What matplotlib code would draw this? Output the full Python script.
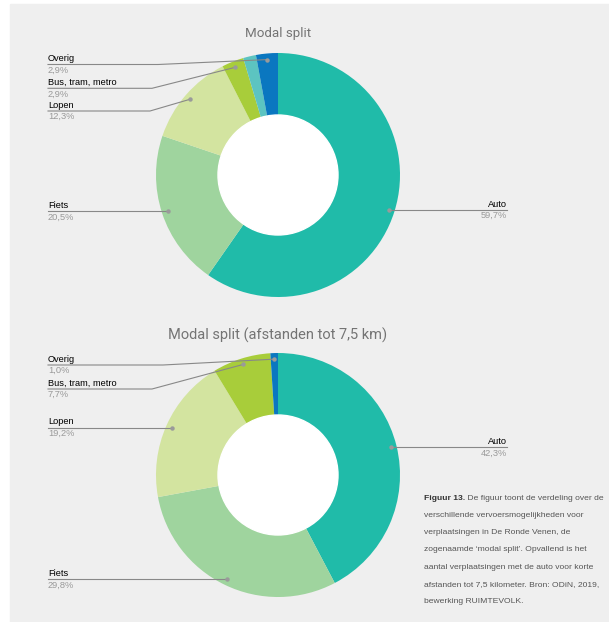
import matplotlib.pyplot as plt
from matplotlib.patches import Circle, Rectangle
import numpy as np

W, H = 609, 622

# data
top_labels = ['Auto', 'Fiets', 'Lopen', 'Bus, tram, metro', '', 'Overig']
top_values = [59.7, 20.5, 12.3, 2.9, 1.7, 2.9]
top_colors = ['#20bba9', '#9fd49e', '#d3e4a0', '#a8cd3a', '#5cc4c1', '#0a77c0']

bottom_labels = ['Auto', 'Fiets', 'Lopen', 'Bus, tram, metro', 'Overig']
bottom_values = [42.3, 29.8, 19.2, 7.7, 1.0]
bottom_colors = ['#20bba9', '#9fd49e', '#d3e4a0', '#a8cd3a', '#0a77c0']

titles = ['Modal split', 'Modal split (afstanden tot 7,5 km)']

caption_bold = 'Figuur 13.'
caption_lines = [
    ' De figuur toont de verdeling over de',
    'verschillende vervoersmogelijkheden voor',
    'verplaatsingen in De Ronde Venen, de',
    'zogenaamde \u2018modal split\u2019. Opvallend is het',
    'aantal verplaatsingen met de auto voor korte',
    'afstanden tot 7,5 kilometer. Bron: ODiN, 2019,',
    'bewerking RUIMTEVOLK.',
]

# label layout in pixels: (side, line y, elbow x); None -> horizontal from dot
top_layout = {
    'Auto': ('R', None, None),
    'Fiets': ('L', None, None),
    'Lopen': ('L', 111, 150),
    'Bus, tram, metro': ('L', 88.3, 152),
    'Overig': ('L', 64.5, 158),
}
bottom_layout = {
    'Auto': ('R', None, None),
    'Fiets': ('L', None, None),
    'Lopen': ('L', None, None),
    'Bus, tram, metro': ('L', 389, 152),
    'Overig': ('L', 365, 163),
}

plt.rcParams['font.family'] = ['Liberation Sans', 'DejaVu Sans']

fig = plt.figure(figsize=(W / 100, H / 100), dpi=100, facecolor='white')
ax = fig.add_axes([0, 0, 1, 1])
ax.add_patch(Rectangle((10, 4), W - 10, H - 4, color='#efefef', zorder=0))

R, r_in = 122, 60
LEFT_X, RIGHT_X = 48, 507


def donut(cy, title, title_y, title_size, labels, values, colors, layout):
    cx = 278
    wedges, _ = ax.pie(values, colors=colors, center=(cx, cy), radius=R,
                       startangle=-90, counterclock=True,
                       wedgeprops=dict(linewidth=0))
    ax.add_patch(Circle((cx, cy), r_in, color='white', zorder=3))
    ax.text(cx, title_y, title, ha='center', va='center', fontsize=title_size,
            color='#747474', family=['Roboto', 'DejaVu Sans'])
    for w, lab, v in zip(wedges, labels, values):
        if lab not in layout:
            continue
        side, ly, ex = layout[lab]
        a = np.deg2rad((w.theta1 + w.theta2) / 2)
        dx, dy = cx + 0.95 * R * np.cos(a), cy + 0.95 * R * np.sin(a)
        if ly is None:
            ly = dy
        if side == 'R':
            xs, ys, tx, ha = [dx, RIGHT_X], [dy, dy], RIGHT_X, 'right'
        elif ex is None:
            xs, ys, tx, ha = [LEFT_X, dx], [dy, dy], LEFT_X, 'left'
        else:
            xs, ys, tx, ha = [LEFT_X, ex, dx], [ly, ly, dy], LEFT_X, 'left'
        ax.plot(xs, ys, color='#888888', lw=0.8, zorder=4)
        ax.plot(dx, dy, 'o', ms=3.2, color='#9a9a9a', mec='none', zorder=5)
        ax.text(tx, ly - 1.2, lab, ha=ha, va='bottom', fontsize=6.7,
                color='#000000', zorder=5)
        val = f'{v:.1f}'.replace('.', ',') + '%'
        ax.text(tx, ly + 1.2, val, ha=ha, va='top', fontsize=6.7,
                color='#999999', zorder=5)


donut(175, titles[0], 33, 9.6, top_labels, top_values, top_colors, top_layout)
donut(475, titles[1], 335, 10.5, bottom_labels, bottom_values, bottom_colors,
      bottom_layout)

# caption
cap_x, cap_y, step = 424, 498, 17.3
tb = ax.text(cap_x, cap_y, caption_bold, ha='left', va='center', fontsize=6.1,
             fontweight='bold', color='#333333')
ax.annotate(caption_lines[0], xy=(1, 0.5), xycoords=tb, ha='left', va='center',
            fontsize=6.1, color='#555555')
for i, line in enumerate(caption_lines[1:], start=1):
    ax.text(cap_x, cap_y + i * step, line, ha='left', va='center',
            fontsize=6.1, color='#555555')

ax.set_xlim(0, W)
ax.set_ylim(H, 0)
ax.set_aspect('equal')
ax.axis('off')

plt.savefig('out.png', dpi=100, facecolor='white')
